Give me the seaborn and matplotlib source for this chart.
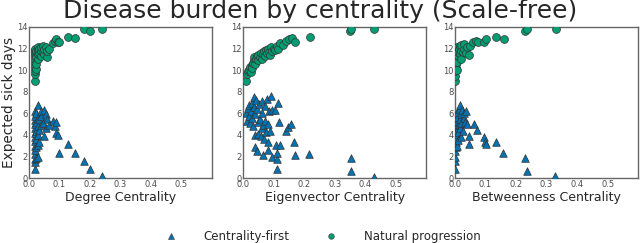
import matplotlib
matplotlib.use("Agg")
import matplotlib.pyplot as plt
import seaborn as sns
import pandas as pd
from matplotlib.lines import Line2D

sns.set_style("white")

# Degree centrality panel
deg_nat_x = [0.02, 0.02, 0.02, 0.02, 0.02, 0.02, 0.02, 0.02, 0.02, 0.02, 0.02, 0.02,
             0.025, 0.025, 0.025, 0.025, 0.03, 0.03, 0.03, 0.03, 0.035, 0.035, 0.04, 0.04,
             0.04, 0.045, 0.045, 0.05, 0.05, 0.055, 0.06, 0.06, 0.065,
             0.08, 0.085, 0.09, 0.095, 0.1, 0.13, 0.15, 0.18, 0.2, 0.24]
deg_nat_y = [9.0, 9.6, 9.9, 10.2, 10.5, 10.8, 11.0, 11.3, 11.5, 11.7, 11.9, 12.0,
             10.1, 10.6, 11.2, 11.8, 11.0, 11.5, 11.9, 12.1, 11.6, 12.0, 11.3, 11.8,
             12.1, 11.7, 12.2, 11.5, 12.0, 12.1, 11.2, 11.8, 12.0,
             12.5, 12.7, 12.9, 12.6, 12.6, 13.1, 13.0, 13.8, 13.6, 13.8]
deg_cf_x = [0.02, 0.02, 0.02, 0.02, 0.02, 0.02, 0.02, 0.02, 0.02, 0.02, 0.02, 0.02, 0.02, 0.02,
            0.025, 0.025, 0.025, 0.025, 0.025, 0.025, 0.03, 0.03, 0.03, 0.03, 0.03, 0.03,
            0.035, 0.035, 0.035, 0.04, 0.04, 0.04, 0.045, 0.05, 0.05, 0.055, 0.055, 0.06, 0.065,
            0.08, 0.085, 0.09, 0.09, 0.095, 0.1, 0.13, 0.15, 0.18, 0.2, 0.24]
deg_cf_y = [0.8, 1.5, 1.8, 2.2, 2.6, 3.0, 3.4, 3.8, 4.2, 4.6, 5.0, 5.4, 5.8, 6.2,
            1.9, 2.9, 3.6, 4.4, 5.2, 6.0, 2.0, 3.1, 4.0, 4.8, 5.6, 6.8,
            3.3, 4.5, 5.5, 4.9, 5.8, 6.2, 5.1, 3.9, 6.3, 5.9, 4.6, 5.5, 4.9,
            5.3, 4.8, 5.2, 4.2, 4.0, 2.3, 3.2, 2.3, 1.6, 0.8, 0.15]

# Eigenvector centrality panel
eig_nat_x = [0.01, 0.012, 0.015, 0.02, 0.022, 0.025, 0.028, 0.03, 0.032, 0.035, 0.035, 0.04,
             0.042, 0.045, 0.048, 0.05, 0.055, 0.058, 0.06, 0.065, 0.068, 0.07, 0.075, 0.078,
             0.08, 0.085, 0.088, 0.09, 0.095, 0.1, 0.105, 0.11, 0.115, 0.12, 0.13, 0.14,
             0.15, 0.16, 0.17, 0.22, 0.35, 0.355, 0.43]
eig_nat_y = [9.0, 9.6, 9.9, 10.0, 10.3, 9.8, 10.5, 10.2, 10.7, 10.9, 11.2, 10.6,
             11.0, 11.3, 10.9, 11.4, 11.2, 11.6, 11.0, 11.5, 11.8, 11.3, 11.9, 11.6,
             12.0, 11.7, 11.4, 12.1, 11.8, 12.0, 11.9, 12.2, 12.0, 12.5, 12.3, 12.7,
             12.9, 13.0, 12.6, 13.1, 13.6, 13.8, 13.8]
eig_cf_x = [0.01, 0.012, 0.015, 0.018, 0.02, 0.022, 0.025, 0.028, 0.03, 0.032, 0.035, 0.035,
            0.038, 0.04, 0.04, 0.042, 0.045, 0.045, 0.048, 0.05, 0.052, 0.055, 0.058, 0.06,
            0.06, 0.062, 0.065, 0.066, 0.068, 0.07, 0.072, 0.075, 0.078, 0.08, 0.082, 0.082,
            0.085, 0.088, 0.092, 0.093, 0.095, 0.105, 0.106, 0.11, 0.112, 0.112, 0.115, 0.117,
            0.12, 0.14, 0.148, 0.158, 0.165, 0.17, 0.216, 0.352, 0.355, 0.43]
eig_cf_y = [6.0, 5.3, 6.5, 5.8, 6.8, 5.1, 6.2, 7.0, 5.6, 4.8, 7.5, 6.6,
            4.0, 5.9, 2.9, 7.2, 6.4, 2.5, 5.2, 4.1, 6.9, 5.5, 3.9, 7.1,
            4.6, 6.0, 4.9, 2.1, 3.6, 5.3, 6.7, 4.3, 7.3, 5.0, 3.3, 2.6,
            6.2, 4.4, 7.6, 2.0, 6.3, 6.3, 3.1, 1.8, 2.3, 0.8, 7.0, 5.2,
            3.1, 4.4, 4.7, 5.0, 3.3, 2.1, 2.2, 1.9, 0.7, 0.1]

# Betweenness centrality panel
btw_nat_x = [0.0, 0.0, 0.0, 0.002, 0.002, 0.003, 0.004, 0.005, 0.005, 0.006, 0.008, 0.008,
             0.01, 0.01, 0.012, 0.015, 0.015, 0.018, 0.02, 0.02, 0.025, 0.03, 0.03, 0.035,
             0.04, 0.045, 0.05, 0.06, 0.07, 0.075, 0.095, 0.1, 0.135, 0.16, 0.228, 0.235, 0.33]
btw_nat_y = [9.0, 9.5, 9.9, 10.2, 10.6, 10.9, 11.2, 11.5, 11.9, 12.1, 10.0, 10.8,
             11.3, 11.7, 12.0, 11.5, 12.2, 11.8, 11.0, 12.3, 11.7, 12.0, 12.4, 11.6,
             12.1, 11.4, 12.2, 12.6, 12.7, 12.6, 12.6, 12.9, 13.1, 12.9, 13.6, 13.8, 13.8]
btw_cf_x = [0.0, 0.0, 0.0, 0.0, 0.002, 0.002, 0.003, 0.004, 0.005, 0.005, 0.006, 0.007,
            0.008, 0.008, 0.01, 0.01, 0.012, 0.012, 0.015, 0.015, 0.016, 0.018, 0.02, 0.02,
            0.022, 0.025, 0.028, 0.03, 0.032, 0.035, 0.04, 0.045, 0.045, 0.062, 0.072,
            0.095, 0.098, 0.1, 0.135, 0.158, 0.228, 0.235, 0.328]
btw_cf_y = [0.8, 1.6, 2.0, 2.5, 2.9, 3.3, 3.7, 4.1, 4.5, 4.9, 5.3, 5.7,
            6.1, 3.0, 3.5, 4.3, 5.0, 6.4, 4.6, 5.5, 6.8, 3.8, 5.9, 5.1,
            6.3, 4.4, 5.6, 6.0, 5.2, 6.2, 5.0, 3.9, 3.2, 5.0, 4.5,
            3.8, 3.3, 3.2, 3.3, 2.3, 1.9, 0.7, 0.15]

panels = [
    ("Degree Centrality", deg_cf_x, deg_cf_y, deg_nat_x, deg_nat_y),
    ("Eigenvector Centrality", eig_cf_x, eig_cf_y, eig_nat_x, eig_nat_y),
    ("Betweenness Centrality", btw_cf_x, btw_cf_y, btw_nat_x, btw_nat_y),
]

blue = "#0173b2"
green = "#029e73"

fig = plt.figure(figsize=(6.4, 2.43), dpi=100)
lefts = [0.045, 0.38, 0.711]
for i, (label, cx, cy, nx, ny) in enumerate(panels):
    ax = fig.add_axes([lefts[i], 0.267, 0.286, 0.622])
    df_cf = pd.DataFrame({"x": cx, "y": cy})
    df_nat = pd.DataFrame({"x": nx, "y": ny})
    sns.scatterplot(data=df_nat, x="x", y="y", ax=ax, marker="o", color=green,
                    s=32, edgecolor="0.2", linewidth=0.5, zorder=3)
    sns.scatterplot(data=df_cf, x="x", y="y", ax=ax, marker="^", color=blue,
                    s=30, edgecolor="0.2", linewidth=0.5, zorder=3)
    ax.set_xlim(0, 0.6)
    ax.set_ylim(0, 14)
    ax.set_xticks([0, 0.1, 0.2, 0.3, 0.4, 0.5])
    ax.set_yticks(range(0, 15, 2))
    ax.tick_params(labelsize=6, length=0, pad=1, colors="0.3")
    ax.set_xlabel(label, fontsize=9, labelpad=2, color="0.15")
    if i == 0:
        ax.set_ylabel("Expected sick days", fontsize=9.8, labelpad=1, color="0.15")
    else:
        ax.set_ylabel("")
    for sp in ax.spines.values():
        sp.set_color("0.4")
        sp.set_linewidth(1.0)

fig.suptitle("Disease burden by centrality (Scale-free)", fontsize=18, y=1.003, color="0.15")

handles = [
    Line2D([], [], marker="^", linestyle="", color=blue, markeredgecolor="0.2",
           markeredgewidth=0.4, markersize=4, label="Centrality-first"),
    Line2D([], [], marker="o", linestyle="", color=green, markeredgecolor="0.2",
           markeredgewidth=0.4, markersize=4, label="Natural progression"),
]
fig.legend(handles=handles, loc="lower center", ncol=2, frameon=False, fontsize=8.5,
           bbox_to_anchor=(0.5, -0.045), columnspacing=2.5, handletextpad=1.8)

fig.savefig("out.png", dpi=100)
